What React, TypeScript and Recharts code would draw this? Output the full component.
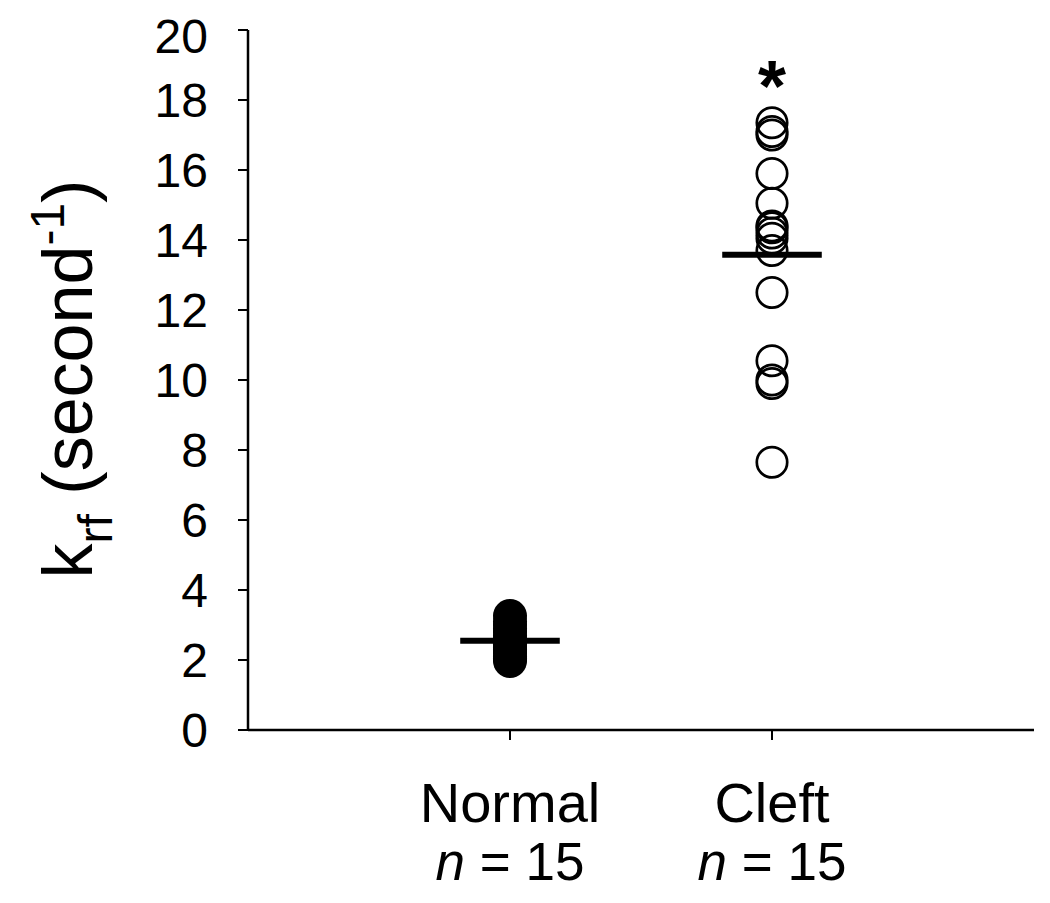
import React from 'react'
import { ScatterChart, Scatter, XAxis, YAxis } from 'recharts'

const categories = ['Normal', 'Cleft']
const sampleSizes = [15, 15]

// k_rf per eye (several points overlap)
const normalValues = [1.97, 2.05, 2.1, 2.2, 2.3, 2.35, 2.45, 2.5, 2.6, 2.7, 2.8, 2.9, 3.0, 3.1, 3.26]
const cleftValues = [17.35, 17.1, 17.0, 15.9, 15.05, 14.4, 14.35, 14.2, 14.05, 13.7, 12.5, 10.55, 10.0, 9.9, 7.65]

const yTicks = [0, 2, 4, 6, 8, 10, 12, 14, 16, 18, 20]
const xTicks = [1, 2]

const starPoint = [{ x: 2, y: 18.86 }]

const MEAN_HALF_WIDTH = 0.19
const FONT = '"Liberation Sans", Arial, Helvetica, sans-serif'

const mean = (arr: number[]) => arr.reduce((s, v) => s + v, 0) / arr.length

const normalPoints = normalValues.map((v) => ({ x: 1, y: v }))
const cleftPoints = cleftValues.map((v) => ({ x: 2, y: v }))

const meanLine = (x: number, values: number[]) => {
  const m = mean(values)
  return [
    { x: x - MEAN_HALF_WIDTH, y: m },
    { x: x + MEAN_HALF_WIDTH, y: m },
  ]
}

// eslint-disable-next-line @typescript-eslint/no-explicit-any
function FilledDot({ cx, cy }: any) {
  return <circle cx={cx} cy={cy} r={17} fill="#000" />
}

// eslint-disable-next-line @typescript-eslint/no-explicit-any
function OpenDot({ cx, cy }: any) {
  return <circle cx={cx} cy={cy} r={15.2} fill="none" stroke="#000" strokeWidth={2.7} />
}

// eslint-disable-next-line @typescript-eslint/no-explicit-any
function StarMark({ cx, cy }: any) {
  return (
    <text x={cx} y={cy + 41} textAnchor="middle" fontSize={72} fontWeight="bold" fill="#000">
      *
    </text>
  )
}

function NoDot() {
  return <g />
}

// eslint-disable-next-line @typescript-eslint/no-explicit-any
function CategoryTick({ x, y, payload }: any) {
  const i = Math.round(payload.value) - 1
  return (
    <g>
      <text x={x} y={y + 82} textAnchor="middle" fontSize={56} fill="#000">
        {categories[i]}
      </text>
      <text x={x} y={y + 140} textAnchor="middle" fontSize={53} fill="#000">
        <tspan fontStyle="italic">n</tspan> = {sampleSizes[i]}
      </text>
    </g>
  )
}

function YLabel() {
  return (
    <text transform="translate(84, 371) rotate(-90)" x={0} y={0} textAnchor="middle" fill="#000" fontSize={70}>
      <tspan>k</tspan>
      <tspan fontSize={48} dy={20}>rf</tspan>
      <tspan dy={-20}> (second</tspan>
      <tspan fontSize={48} dy={-28}>-1</tspan>
      <tspan dy={28}>)</tspan>
    </text>
  )
}

export default function App() {
  return (
    <div style={{ width: 1034, height: 887, fontFamily: FONT, background: '#fff' }}>
      <ScatterChart width={1034} height={887} margin={{ top: 22, right: 8, left: 0, bottom: 15 }}>
        <XAxis
          type="number"
          dataKey="x"
          domain={[0, 3]}
          ticks={xTicks}
          tick={<CategoryTick />}
          tickSize={10}
          tickMargin={0}
          height={150}
          axisLine={{ stroke: '#000', strokeWidth: 2.5 }}
          tickLine={{ stroke: '#000', strokeWidth: 2 }}
        />
        <YAxis
          type="number"
          dataKey="y"
          domain={[0, 20]}
          ticks={yTicks}
          width={240}
          tickSize={10}
          tickMargin={30}
          tick={{ fill: '#000', fontSize: 48 }}
          axisLine={{ stroke: '#000', strokeWidth: 2.5 }}
          tickLine={{ stroke: '#000', strokeWidth: 2 }}
          label={{ content: () => <YLabel /> }}
        />
        <Scatter data={normalPoints} shape={<FilledDot />} isAnimationActive={false} />
        <Scatter data={cleftPoints} shape={<OpenDot />} isAnimationActive={false} />
        <Scatter
          data={meanLine(1, normalValues)}
          line={{ stroke: '#000', strokeWidth: 6 }}
          shape={<NoDot />}
          isAnimationActive={false}
        />
        <Scatter
          data={meanLine(2, cleftValues)}
          line={{ stroke: '#000', strokeWidth: 6 }}
          shape={<NoDot />}
          isAnimationActive={false}
        />
        <Scatter data={starPoint} shape={<StarMark />} isAnimationActive={false} />
      </ScatterChart>
    </div>
  )
}
